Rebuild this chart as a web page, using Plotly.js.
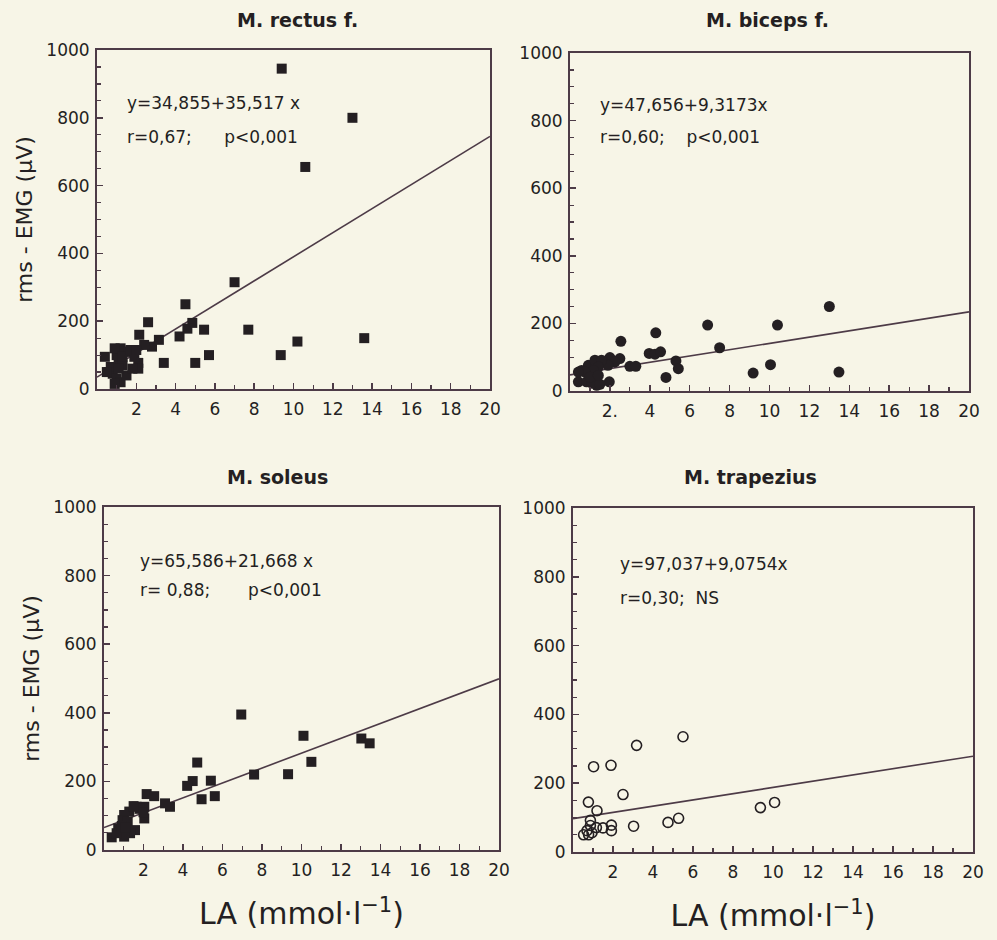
<!DOCTYPE html>
<html>
<head>
<meta charset="utf-8">
<script src="https://cdn.plot.ly/plotly-3.0.1.min.js"></script>
<style>
html,body{margin:0;padding:0;background:#f7f5e7;}
#chart{width:997px;height:940px;}
</style>
</head>
<body>
<div id="chart"></div>
<script>
// ---- data ----
const rectusX = [9.4,13.0,10.6,7.0,4.5,2.6,4.85,4.6,5.45,7.7,2.15,4.2,3.15,13.6,10.2,2.8,9.35,5.7,3.4,5.0,2.1,2.1,2.4,
  0.4,0.6,0.8,1.0,1.2,0.9,1.1,1.3,1.4,1.6,0.7,1.0,1.2,0.9,1.5,1.3,1.8,1.9,1.7,0.5,1.1,2.0];
const rectusY = [945,800,655,315,250,197,195,178,175,175,160,155,145,150,140,125,100,100,77,77,77,60,130,
  95,50,45,100,120,120,85,70,110,110,65,30,20,15,40,95,60,95,115,50,60,115];

const bicepsX = [13.0,6.9,10.4,4.3,2.55,7.5,3.97,4.26,4.54,5.31,5.43,3.0,3.3,4.81,9.18,10.05,13.48,1.97,2.0,2.5,2.25,1.65,1.9,
  0.42,0.83,1.34,1.09,1.5,0.58,0.92,1.25,1.58,1.42,1.17,0.75,1.0,1.42,0.42];
const bicepsY = [250,195,195,172,147,128,111,109,116,89,66,73,73,40,53,78,56,27,99,96,86,86,76,
  27,27,17,23,20,61,76,91,91,71,61,56,41,46,56];

const soleusX = [6.95,10.1,13.03,13.45,4.72,10.5,7.6,9.32,5.41,4.49,4.21,4.94,5.61,2.16,2.54,3.09,3.34,2.04,2.04,1.65,1.8,
  1.28,1.02,0.94,1.2,0.72,1.57,1.32,1.02,0.39,0.64,2.0,1.5,0.9,1.1];
const soleusY = [395,333,325,311,255,257,220,221,202,201,187,148,157,163,157,136,126,126,92,126,120,
  112,102,87,83,63,58,49,39,37,49,110,128,70,65];

const trapX = [5.5,3.18,1.03,1.9,2.5,0.77,1.2,9.37,10.08,5.28,4.75,3.03,1.92,1.92,1.5,1.17,0.87,0.87,0.53,0.78,0.95,0.7];
const trapY = [335,310,248,252,167,145,120,129,144,98,86,75,78,62,70,71,92,77,50,50,56,62];

// regression lines (end points at LA = 0 and 20, from the printed equations)
const lineX = [0, 20];
const rectusLineY = [34.9, 745.2];
const bicepsLineY = [47.7, 234.0];
const soleusLineY = [65.6, 499.0];
const trapLineY = [97.0, 278.5];

const titles = ["M. rectus f.", "M. biceps f.", "M. soleus", "M. trapezius"];
const eqLines = ["y=34,855+35,517 x", "y=47,656+9,3173x", "y=65,586+21,668 x", "y=97,037+9,0754x"];
const statLines = ["r=0,67;      p&lt;0,001", "r=0,60;    p&lt;0,001",
  "r= 0,88;       p&lt;0,001", "r=0,30;  NS"];
const xTickVals = [2,4,6,8,10,12,14,16,18,20];
const xTickText = ["2","4","6","8","10","12","14","16","18","20"];
const xTickText2 = ["2.","4","6","8","10","12","14","16","18","20"];
const yTickVals = [0,200,400,600,800,1000];
const yTickText = ["0","200","400","600","800","1000"];

// ---- styling ----
const ink = "#241f22";
const axisCol = "#4d3b47";
const bg = "#f7f5e7";
const font = "DejaVu Sans, Verdana, sans-serif";

const W = 997, H = 940;
function dx(a,b){return [a/W, b/W];}
function dy(top,bot){return [1-bot/H, 1-top/H];}

function xaxis(dom, anchor, ttext, title){
  const ax = {
    domain: dom, anchor: anchor, range:[0,20], fixedrange:true,
    showline:true, mirror:true, linecolor:axisCol, linewidth:2,
    ticks:"inside", ticklen:6, tickwidth:1.5, tickcolor:axisCol,
    tickmode:"array", tickvals:xTickVals, ticktext:ttext,
    minor:{dtick:1, tick0:0, ticks:"inside", ticklen:4, tickcolor:axisCol, tickwidth:1.2, showgrid:false},
    showgrid:false, zeroline:false,
    tickfont:{family:font, size:17, color:ink}, ticklabelstandoff:4
  };
  if(title){ ax.title = {text:title, font:{family:font, size:30, color:ink}, standoff:24}; }
  return ax;
}
function yaxis(dom, anchor, title){
  const ax = {
    domain: dom, anchor: anchor, range:[0,1000], fixedrange:true,
    showline:true, mirror:true, linecolor:axisCol, linewidth:2,
    ticks:"inside", ticklen:6, tickwidth:1.5, tickcolor:axisCol,
    tickmode:"array", tickvals:yTickVals, ticktext:yTickText,
    minor:{dtick:50, tick0:0, ticks:"inside", ticklen:4, tickcolor:axisCol, tickwidth:1.2, showgrid:false},
    showgrid:false, zeroline:false,
    tickfont:{family:font, size:17, color:ink}, ticklabelstandoff:2
  };
  if(title){ ax.title = {text:title, font:{family:font, size:22, color:ink}, standoff:8}; }
  return ax;
}

const sq = {symbol:"square", size:10, color:ink, line:{width:0}};
const dot = {symbol:"circle", size:11, color:ink, line:{width:0}};
const ring = {symbol:"circle-open", size:10, color:ink, line:{width:1.6, color:ink}};
const ln = {color:axisCol, width:1.6};

const traces = [
  {x:lineX, y:rectusLineY, xaxis:"x", yaxis:"y", mode:"lines", line:ln, hoverinfo:"skip"},
  {x:rectusX, y:rectusY, xaxis:"x", yaxis:"y", mode:"markers", marker:sq},
  {x:lineX, y:bicepsLineY, xaxis:"x2", yaxis:"y2", mode:"lines", line:ln, hoverinfo:"skip"},
  {x:bicepsX, y:bicepsY, xaxis:"x2", yaxis:"y2", mode:"markers", marker:dot},
  {x:lineX, y:soleusLineY, xaxis:"x3", yaxis:"y3", mode:"lines", line:ln, hoverinfo:"skip"},
  {x:soleusX, y:soleusY, xaxis:"x3", yaxis:"y3", mode:"markers", marker:sq},
  {x:lineX, y:trapLineY, xaxis:"x4", yaxis:"y4", mode:"lines", line:ln, hoverinfo:"skip"},
  {x:trapX, y:trapY, xaxis:"x4", yaxis:"y4", mode:"markers", marker:ring}
];

const xTitle = "LA (mmol·l<sup>−1</sup>)";
const yTitle = "rms - EMG (μV)";

const P = [
  {xd:dx(97,490),   yd:dy(50,389)},
  {xd:dx(570,969),  yd:dy(53,391)},
  {xd:dx(104,499),  yd:dy(507,850)},
  {xd:dx(573,973),  yd:dy(508,852)}
];

const annotations = [];
const titlePos = [[297,20],[767,20],[277,477],[750,477]];
const eqPos = [[125,103],[598,105],[138,561],[618,564]];
const statPos = [[125,137],[598,137],[138,590],[618,598]];
for(let i=0;i<4;i++){
  annotations.push({xref:"paper", yref:"paper", x:titlePos[i][0]/W, y:1-titlePos[i][1]/H,
    xanchor:"center", yanchor:"middle", showarrow:false, text:"<b>"+titles[i]+"</b>",
    font:{family:font, size:19, color:ink}});
  annotations.push({xref:"paper", yref:"paper", x:eqPos[i][0]/W, y:1-eqPos[i][1]/H,
    xanchor:"left", yanchor:"middle", showarrow:false, text:eqLines[i],
    font:{family:font, size:17, color:ink}});
  annotations.push({xref:"paper", yref:"paper", x:statPos[i][0]/W, y:1-statPos[i][1]/H,
    xanchor:"left", yanchor:"middle", showarrow:false, text:statLines[i].replace(/ /g,"\u00a0"),
    font:{family:font, size:17, color:ink}});
}

const layout = {
  width:W, height:H, margin:{l:0,r:0,t:0,b:0},
  paper_bgcolor:bg, plot_bgcolor:bg, showlegend:false,
  xaxis: xaxis(P[0].xd, "y", xTickText, null),
  yaxis: yaxis(P[0].yd, "x", yTitle),
  xaxis2: xaxis(P[1].xd, "y2", xTickText2, null),
  yaxis2: yaxis(P[1].yd, "x2", null),
  xaxis3: xaxis(P[2].xd, "y3", xTickText, xTitle),
  yaxis3: yaxis(P[2].yd, "x3", yTitle),
  xaxis4: xaxis(P[3].xd, "y4", xTickText, xTitle),
  yaxis4: yaxis(P[3].yd, "x4", null),
  annotations: annotations
};

Plotly.newPlot("chart", traces, layout, {staticPlot:true, displayModeBar:false});
</script>
</body>
</html>
